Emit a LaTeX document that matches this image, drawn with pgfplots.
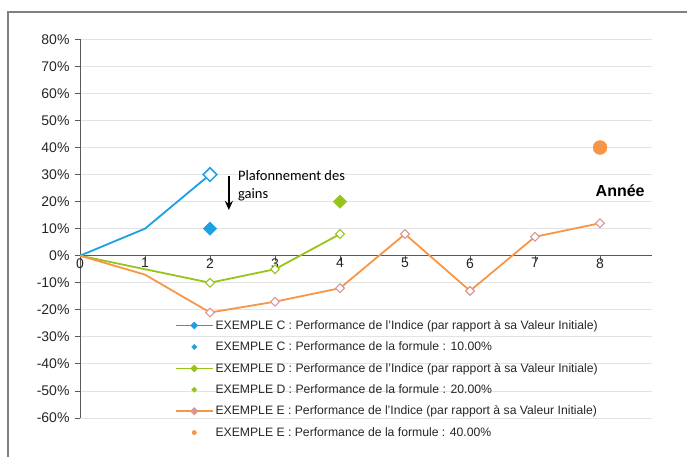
\documentclass[border=0pt]{standalone}
\usepackage{fontspec}
\setmainfont{Liberation Sans}
\newfontfamily\calibri{Carlito}
\usepackage{pgfplots}
\pgfplotsset{compat=1.18}
\usetikzlibrary{arrows.meta}
\definecolor{cblue}{RGB}{27,161,226}
\definecolor{cgreen}{RGB}{150,196,26}
\definecolor{corange}{RGB}{247,150,70}
\definecolor{cpink}{RGB}{217,150,148}
\definecolor{axgray}{RGB}{89,89,89}
\begin{document}
\begin{tikzpicture}[x=1pt,y=1pt]
\useasboundingbox (0,0) rectangle (687,457);
\draw[gray, line width=1.5pt] (8,0) -- (8,445) -- (687,445);
\begin{axis}[
  at={(80pt,39pt)}, anchor=south west,
  scale only axis, width=572pt, height=378.7pt,
  xmin=0, xmax=8.8, ymin=-60, ymax=80,
  axis x line=middle, axis y line=left,
  hide obscured x ticks=false, hide obscured y ticks=false,
  axis line style={-, draw=axgray, line width=0.9pt},
  xtick={0,1,2,3,4,5,6,7,8}, ytick={-60,-50,-40,-30,-20,-10,0,10,20,30,40,50,60,70,80},
  ymajorgrids, grid style={draw=gray!22, line width=0.8pt},
  tick style={draw=axgray, line width=0.8pt},
  major tick length=5pt,
  ytick align=outside, xtick align=outside,
  tick label style={font=\fontsize{14}{16}\selectfont, text=black!85},
  /pgf/number format/assume math mode=true,
  yticklabel={\pgfmathprintnumber{\tick}\%},
  yticklabel style={xshift=-2pt},
  xticklabel style={yshift=6pt},
  legend style={at={(0.1605,0.269)}, anchor=north west, draw=none, fill=none,
    font=\fontsize{12.2}{14}\selectfont, row sep=7pt, text=black!85},
  legend cell align=left,
]
\addplot[cblue, line width=1.8pt, mark=square*, mark indices={3}, mark size=4.8pt,
  mark options={rotate=45, fill=white, draw=cblue, line width=1.5pt},
  legend image code/.code={\draw[cblue, line width=1.5pt] (0pt,0pt) -- (37pt,0pt);
    \fill[cblue] (18.5pt,0pt) +(-2.6pt,0pt) -- +(0pt,2.6pt) -- +(2.6pt,0pt) -- +(0pt,-2.6pt) -- cycle;}]
  coordinates {(0,0) (1,10) (2,30)};
\addlegendentry{EXEMPLE C : Performance de l'Indice (par rapport à sa Valeur Initiale)}
\addplot[only marks, mark=square*, mark size=4.8pt,
  mark options={rotate=45, fill=cblue, draw=cblue},
  legend image code/.code={\fill[cblue] (18.5pt,0pt) +(-2.6pt,0pt) -- +(0pt,2.6pt) -- +(2.6pt,0pt) -- +(0pt,-2.6pt) -- cycle;}]
  coordinates {(2,10)};
\addlegendentry{EXEMPLE C : Performance de la formule : 10.00\%}
\addplot[cgreen, line width=1.8pt, mark=square*, mark indices={3,4,5}, mark size=3.1pt,
  mark options={rotate=45, fill=white, draw=cgreen, line width=1.1pt},
  legend image code/.code={\draw[cgreen, line width=1.5pt] (0pt,0pt) -- (37pt,0pt);
    \fill[cgreen] (18.5pt,0pt) +(-2.6pt,0pt) -- +(0pt,2.6pt) -- +(2.6pt,0pt) -- +(0pt,-2.6pt) -- cycle;}]
  coordinates {(0,0) (1,-5) (2,-10) (3,-5) (4,8)};
\addlegendentry{EXEMPLE D : Performance de l'Indice (par rapport à sa Valeur Initiale)}
\addplot[only marks, mark=square*, mark size=4.8pt,
  mark options={rotate=45, fill=cgreen, draw=cgreen},
  legend image code/.code={\fill[cgreen] (18.5pt,0pt) +(-2.6pt,0pt) -- +(0pt,2.6pt) -- +(2.6pt,0pt) -- +(0pt,-2.6pt) -- cycle;}]
  coordinates {(4,20)};
\addlegendentry{EXEMPLE D : Performance de la formule : 20.00\%}
\addplot[corange, line width=1.8pt, mark=square*, mark indices={3,4,5,6,7,8,9}, mark size=3.1pt,
  mark options={rotate=45, fill=white, draw=cpink, line width=1.1pt},
  legend image code/.code={\draw[corange, line width=1.5pt] (0pt,0pt) -- (37pt,0pt);
    \fill[cpink] (18.5pt,0pt) +(-2.8pt,0pt) -- +(0pt,2.8pt) -- +(2.8pt,0pt) -- +(0pt,-2.8pt) -- cycle;}]
  coordinates {(0,0) (1,-7) (2,-21) (3,-17) (4,-12) (5,8) (6,-13) (7,7) (8,12)};
\addlegendentry{EXEMPLE E : Performance de l'Indice (par rapport à sa Valeur Initiale)}
\addplot[only marks, mark=*, mark size=7pt,
  mark options={fill=corange, draw=corange},
  legend image code/.code={\fill[corange] (18.5pt,0pt) circle (2.2pt);}]
  coordinates {(8,40)};
\addlegendentry{EXEMPLE E : Performance de la formule : 40.00\%}
\draw[-{Stealth[length=9pt,width=8pt]}, line width=1.4pt, black] (axis cs:2.29,29.5) -- (axis cs:2.29,16.9);
\node[anchor=north west, align=left, inner sep=0pt, font=\calibri\fontsize{14.5}{18}\selectfont] at (axis cs:2.43,31.6) {Plafonnement des\\gains};
\node[font=\bfseries\fontsize{16}{18}\selectfont] at (axis cs:8.31,24.2) {Année};
\end{axis}
\end{tikzpicture}
\end{document}
